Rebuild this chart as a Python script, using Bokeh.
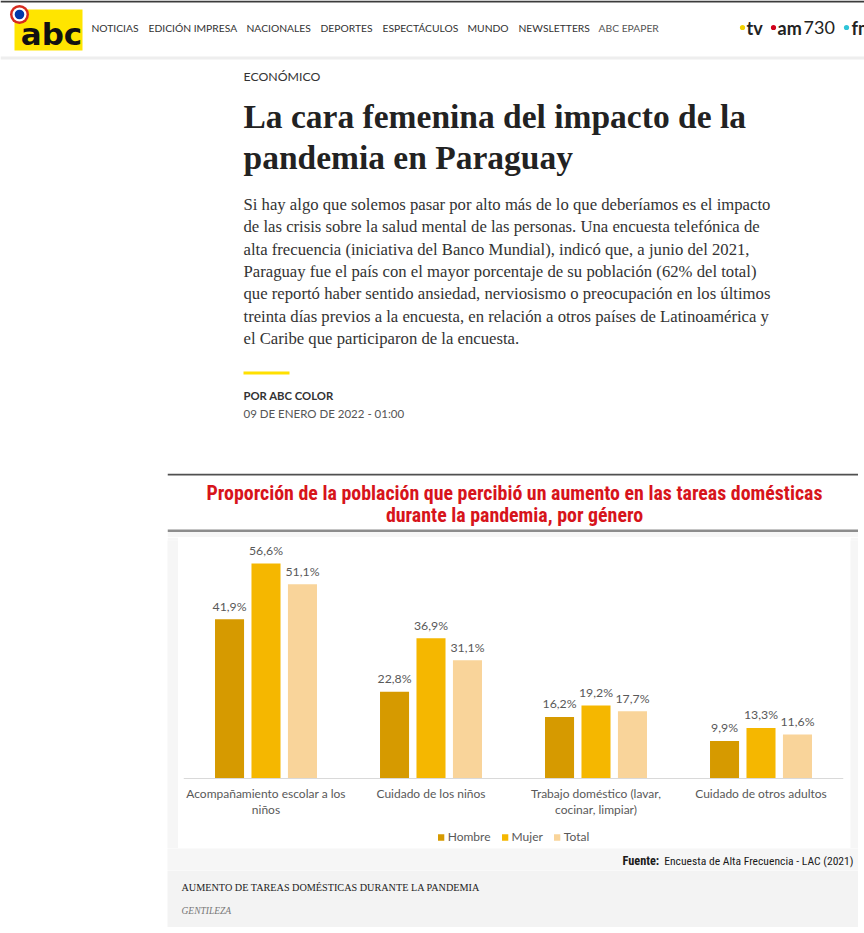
from bokeh.plotting import figure
from bokeh.models import Range1d, FactorRange, ColumnDataSource, Legend, LegendItem, Spacer, Span
from bokeh.layouts import column, row
from bokeh.transform import dodge
from bokeh.core.properties import value
from bokeh.embed import file_html
from bokeh.resources import INLINE

# ---------------- data ----------------
categories = [
    "Acompañamiento escolar a los\nniños",
    "Cuidado de los niños",
    "Trabajo doméstico (lavar,\ncocinar, limpiar)",
    "Cuidado de otros adultos",
]
series = ["Hombre", "Mujer", "Total"]
hombre = [41.9, 22.8, 16.2, 9.9]
mujer = [56.6, 36.9, 19.2, 13.3]
total = [51.1, 31.1, 17.7, 11.6]
series_colors = ["#d69a00", "#f5b700", "#f9d49a"]
series_offsets = [-0.221, 0.0, 0.221]

chart_title = ["Proporción de la población que percibió un aumento en las tareas domésticas",
               "durante la pandemia, por género"]
source_bold = "Fuente:"
source_text = "Encuesta de Alta Frecuencia - LAC (2021)"
caption = "AUMENTO DE TAREAS DOMÉSTICAS DURANTE LA PANDEMIA"
credit = "GENTILEZA"

nav_items = ["NOTICIAS", "EDICIÓN IMPRESA", "NACIONALES", "DEPORTES", "ESPECTÁCULOS",
             "MUNDO", "NEWSLETTERS", "ABC EPAPER"]
nav_x = [91, 148, 246, 320, 382, 467, 518, 598]
section = "ECONÓMICO"
headline = ["La cara femenina del impacto de la", "pandemia en Paraguay"]
body_lines = [
    "Si hay algo que solemos pasar por alto más de lo que deberíamos es el impacto",
    "de las crisis sobre la salud mental de las personas. Una encuesta telefónica de",
    "alta frecuencia (iniciativa del Banco Mundial), indicó que, a junio del 2021,",
    "Paraguay fue el país con el mayor porcentaje de su población (62% del total)",
    "que reportó haber sentido ansiedad, nerviosismo o preocupación en los últimos",
    "treinta días previos a la encuesta, en relación a otros países de Latinoamérica y",
    "el Caribe que participaron de la encuesta.",
]
byline = "POR ABC COLOR"
dateline = "09 DE ENERO DE 2022 - 01:00"

SANS = "Lato"
SERIF = "Liberation Serif"
NARROW = "'Roboto Condensed', 'DejaVu Sans Condensed', 'Liberation Sans Narrow', 'Liberation Sans'"
LOGO = "DejaVu Sans"


def canvas(w, h, x0, y0, bg):
    p = figure(width=w, height=h, x_range=Range1d(x0, x0 + w), y_range=Range1d(y0 + h, y0),
               output_backend="svg", toolbar_location=None, tools="", min_border=0,
               x_axis_type=None, y_axis_type=None)
    p.grid.visible = False
    p.outline_line_color = None
    p.background_fill_color = bg
    p.border_fill_color = bg
    return p


def txt(p, x, y, s, size, color="#333333", font=SANS, style="normal", align="left", baseline="middle"):
    p.text(x=[x], y=[y], text=[s], text_font=value(font), text_font_size=value(f"{size}px"),
           text_font_style=style, text_color=color, text_align=align, text_baseline=baseline)


# ---------------- page top ----------------
top = canvas(864, 473, 0, 0, "#ffffff")
top.quad(left=[0], right=[864], top=[0], bottom=[2], fill_color="#3c3c3c", line_color=None)
top.quad(left=[0], right=[864], top=[56], bottom=[59], fill_color="#eeeeee", line_color=None)
top.quad(left=[14], right=[82], top=[9], bottom=[50], fill_color="#ffe500", line_color=None)
top.circle(x=[19], y=[14], radius=9.5, fill_color="#d52b1e", line_color=None)
top.circle(x=[19], y=[14], radius=7, fill_color="#ffffff", line_color=None)
top.circle(x=[19], y=[14], radius=4.8, fill_color="#0038a8", line_color=None)
txt(top, 51, 33, "abc", 31, "#111111", LOGO, "bold", "center")
for s, x in zip(nav_items, nav_x):
    txt(top, x, 27, s, 10.3, "#333333" if s != "ABC EPAPER" else "#555555")
top.circle(x=[742], y=[27], radius=2.6, fill_color="#f2d100", line_color=None)
txt(top, 746, 27, "tv", 18, "#222222", SANS, "bold")
top.circle(x=[773], y=[27], radius=2.6, fill_color="#d0021b", line_color=None)
txt(top, 777, 27, "am", 18, "#222222", SANS, "bold")
txt(top, 803, 27, "730", 18, "#222222", SANS)
top.circle(x=[846], y=[27], radius=2.6, fill_color="#2fc4d8", line_color=None)
txt(top, 851, 27, "fm", 18, "#222222", SANS, "bold")

txt(top, 243, 76, section, 12.3, "#333333", SANS)
txt(top, 243, 116, headline[0], 33.5, "#222222", SERIF, "bold")
txt(top, 243, 157, headline[1], 33.5, "#222222", SERIF, "bold")
for i, line in enumerate(body_lines):
    txt(top, 243, 204 + i * 22.33, line, 16.7, "#333333", SERIF)
top.quad(left=[243], right=[289], top=[371], bottom=[374], fill_color="#ffe000", line_color=None)
txt(top, 243, 395, byline, 11.3, "#333333", SANS, "bold")
txt(top, 243, 413, dateline, 11.5, "#555555", SANS)

# ---------------- chart title ----------------
tfig = canvas(691, 64, 167, 473, "#ffffff")
tfig.quad(left=[167], right=[858], top=[473], bottom=[475], fill_color="#505050", line_color=None)
tfig.quad(left=[167], right=[858], top=[529], bottom=[531.5], fill_color="#8c8c8c", line_color=None)
tfig.quad(left=[167], right=[858], top=[531.5], bottom=[537], fill_color="#f6f6f6", line_color=None)
txt(tfig, 514, 493, chart_title[0], 19.9, "#d7141b", NARROW, "bold", "center")
txt(tfig, 514, 515, chart_title[1], 19.9, "#d7141b", NARROW, "bold", "center")

# ---------------- chart ----------------
fmt = lambda v: f"{v:.1f}".replace(".", ",") + "%"
src = ColumnDataSource(dict(
    cat=categories,
    base=[0] * len(categories),
    Hombre=hombre, Mujer=mujer, Total=total,
    Hombre_l=[fmt(v) for v in hombre],
    Mujer_l=[fmt(v) for v in mujer],
    Total_l=[fmt(v) for v in total],
))

# 3.8 px per percentage point; baseline 70 px above the panel bottom
p = figure(width=672, height=311, x_range=FactorRange(factors=categories),
           y_range=Range1d(-18.42, 62.63),
           output_backend="svg", toolbar_location=None, tools="",
           min_border_left=5, min_border_right=7, min_border_top=3, min_border_bottom=0)
p.outline_line_color = None
p.background_fill_color = "#ffffff"
p.border_fill_color = "#ffffff"
p.grid.visible = False
p.xaxis.visible = False
p.yaxis.visible = False

p.add_layout(Span(location=0, dimension="width", line_color="#d9d9d9", line_width=1))

items = []
for name, col, off in zip(series, series_colors, series_offsets):
    r = p.vbar(x=dodge("cat", off, range=p.x_range), top=name, bottom=0, width=0.176, source=src,
               fill_color=col, line_color=None)
    p.text(x=dodge("cat", off, range=p.x_range), y=name, text=name + "_l", source=src,
           text_font=value(SANS), text_font_size=value("12.3px"), text_color="#595959",
           text_align="center", text_baseline="alphabetic", y_offset=-13)
    items.append(LegendItem(label=value(name), renderers=[r]))

# category labels under the baseline
p.text(x="cat", y="base", text="cat", source=src, text_font=value(SANS),
       text_font_size=value("12px"), text_color="#595959", text_align="center",
       text_baseline="top", y_offset=7, text_line_height=1.1)

legend = Legend(items=items, orientation="horizontal", location="bottom_center",
                glyph_width=8, glyph_height=8, label_standoff=3, spacing=10,
                label_height=12, padding=0, margin=4,
                label_text_font=SANS, label_text_font_size="12px", label_text_color="#595959",
                border_line_color=None, background_fill_alpha=0)
p.add_layout(legend)

lstrip = canvas(11, 311, 167, 537, "#f6f6f6")
rstrip = canvas(8, 311, 850, 537, "#f6f6f6")

# ---------------- source & caption ----------------
ffig = canvas(691, 22, 167, 848, "#f6f6f6")
txt(ffig, 622, 860, source_bold, 12.3, "#1a1a1a", NARROW, "bold")
txt(ffig, 853, 860, source_text, 11.6, "#1a1a1a", NARROW, "normal", "right")

cfig = canvas(691, 57, 167, 870, "#f3f3f3")
txt(cfig, 181, 887, caption, 10.2, "#222222", SERIF)
txt(cfig, 181, 910, credit, 9.5, "#777777", SERIF, "italic")

block = column(tfig, row(lstrip, p, rstrip), ffig, cfig)
layout = column(top, row(Spacer(width=167, height=454), block))

open("out.html", "w").write(file_html(layout, INLINE, title="La cara femenina del impacto de la pandemia en Paraguay"))
